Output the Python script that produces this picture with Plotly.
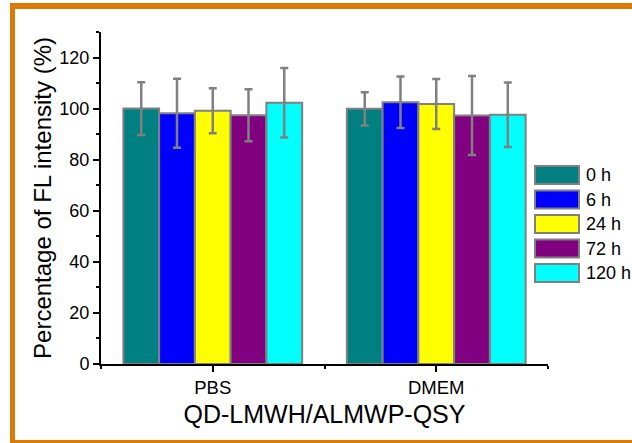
import plotly.graph_objects as go

categories = ["PBS", "DMEM"]
series_names = ["0 h", "6 h", "24 h", "72 h", "120 h"]
series_colors = ["#008080", "#0000FF", "#FFFF00", "#800080", "#00FFFF"]
values_0h = [100.0, 99.9]
values_6h = [98.2, 102.5]
values_24h = [99.2, 101.8]
values_72h = [97.4, 97.3]
values_120h = [102.3, 97.6]
err_0h = [10.3, 6.5]
err_6h = [13.5, 10.1]
err_24h = [8.8, 9.8]
err_72h = [10.2, 15.5]
err_120h = [13.6, 12.6]

values = [values_0h, values_6h, values_24h, values_72h, values_120h]
errors = [err_0h, err_6h, err_24h, err_72h, err_120h]
xpos = [i + 1 for i in range(len(categories))]

W, H = 632, 443
L, R, T, B = 101, 548, 32, 364  # plot area pixel bounds

def px(x):
    return (x - L) / (R - L)

def py(y):
    return (B - y) / (B - T)

fig = go.Figure()
for name, col, v, e in zip(series_names, series_colors, values, errors):
    fig.add_trace(go.Bar(
        x=xpos, y=v, name=name,
        marker=dict(color=col, line=dict(color="#808080", width=2)),
        error_y=dict(type="data", array=e, visible=True, color="#808080",
                     thickness=2.5, width=4),
        showlegend=False,
    ))

font_fam = "Liberation Sans, Arial, sans-serif"
shapes = []
annotations = []
orange = "#DA7B05"
# orange frame
shapes.append(dict(type="rect", xref="paper", yref="paper", x0=px(10), x1=px(15),
                   y0=py(3), y1=py(443), fillcolor=orange, line=dict(width=0), layer="above"))
shapes.append(dict(type="rect", xref="paper", yref="paper", x0=px(10), x1=px(632),
                   y0=py(3), y1=py(9), fillcolor=orange, line=dict(width=0), layer="above"))
shapes.append(dict(type="rect", xref="paper", yref="paper", x0=px(10), x1=px(632),
                   y0=py(440), y1=py(443), fillcolor=orange, line=dict(width=0), layer="above"))

# legend
for i, (name, col) in enumerate(zip(series_names, series_colors)):
    cy = 175 + 24.5 * i
    shapes.append(dict(type="rect", xref="paper", yref="paper", x0=px(535), x1=px(579),
                       y0=py(cy - 9), y1=py(cy + 9), fillcolor=col,
                       line=dict(color="#808080", width=2)))
    annotations.append(dict(xref="paper", yref="paper", x=px(584), y=py(cy), text=name,
                            showarrow=False, xanchor="left", yanchor="middle",
                            font=dict(family=font_fam, size=18, color="black")))

fig.update_layout(
    width=W, height=H,
    margin=dict(l=L, r=W - R, t=T, b=H - B, pad=0),
    paper_bgcolor="white", plot_bgcolor="white",
    barmode="group", bargap=0.2, bargroupgap=0,
    font=dict(family=font_fam, color="black"),
    shapes=shapes, annotations=annotations,
    xaxis=dict(
        range=[0.5, 2.5], tickvals=xpos, ticktext=categories,
        showline=True, linecolor="black", linewidth=2, mirror=False,
        ticks="outside", ticklen=6, tickwidth=2, tickcolor="black",
        minor=dict(tick0=0.5, dtick=0.5, ticks="outside", ticklen=3, tickwidth=2, tickcolor="black"),
        showgrid=False, zeroline=False,
        tickfont=dict(size=18.5, family=font_fam),
        title=dict(text="QD-LMWH/ALMWP-QSY", font=dict(size=25, family=font_fam), standoff=8),
    ),
    yaxis=dict(
        range=[0, 130], tickvals=[0, 20, 40, 60, 80, 100, 120],
        showline=True, linecolor="black", linewidth=2,
        ticks="outside", ticklen=6, tickwidth=2, tickcolor="black",
        minor=dict(tick0=10, dtick=20, ticks="outside", ticklen=3, tickwidth=2, tickcolor="black"),
        showgrid=False, zeroline=False,
        tickfont=dict(size=18, family=font_fam),
        title=dict(text="Percentage of FL intensity (%)", font=dict(size=24, family=font_fam), standoff=1),
    ),
)

fig.write_html("out.html", config={"displayModeBar": False},
               post_script="document.body.style.margin='0px';document.body.style.overflow='hidden';")
